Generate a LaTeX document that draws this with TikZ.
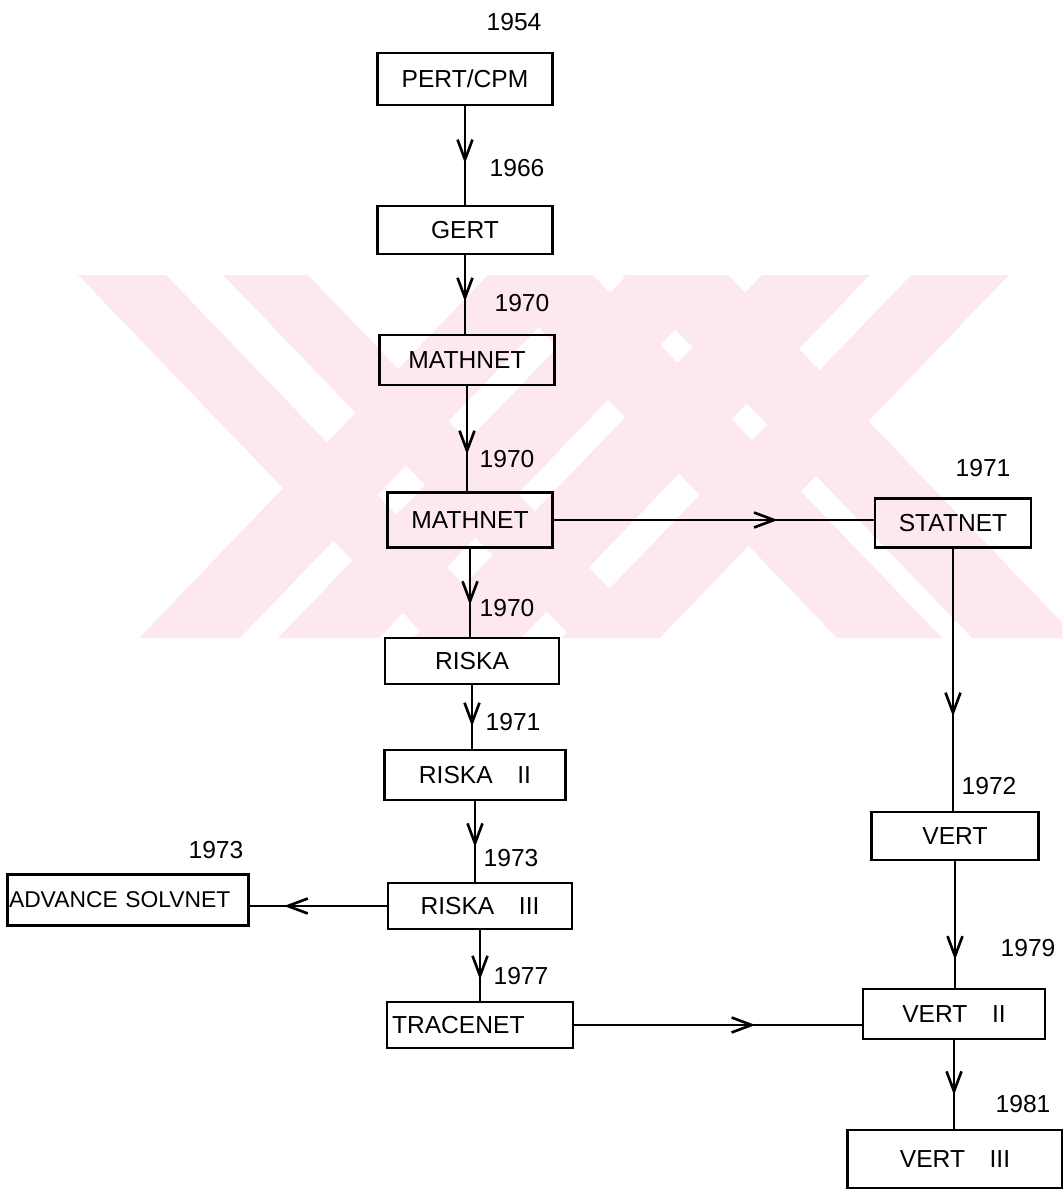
\documentclass[tikz,border=0pt]{standalone}
\usepackage{fontspec}
\setmainfont{Liberation Sans}
\usetikzlibrary{arrows.meta,decorations.markings}
\definecolor{stamp}{RGB}{253,233,237}
\tikzset{
  box/.style={draw, line width=1.5pt, inner sep=2pt, font=\fontsize{14}{16}\selectfont},
  year/.style={font=\fontsize{14}{16}\selectfont},
  link/.style={line width=1.5pt, postaction={decorate},
    decoration={markings, mark=at position #1 with {\arrow{Straight Barb[length=4mm,width=3mm]}}}},
}
\begin{document}
\begin{tikzpicture}[x=0.02cm,y=-0.02cm]
  \useasboundingbox (0,0) rectangle (1062,1196);
  % faded stamp behind the chart
  \begin{scope}
    \clip (75,275) rectangle (1062,638);
    \foreach \l/\r in {78/166,223/308,488/593,623/728}
      \fill[stamp] (\l,275) -- (\r,275) -- (\r+349,638) -- (\l+349,638) -- cycle;
    \foreach \l/\r in {139/240,278/379,413/521,562/660}
      \fill[stamp] (\l,638) -- (\r,638) -- (\r+349,275) -- (\l+349,275) -- cycle;
  \end{scope}
  % left column
  \node[box,minimum width=3.5cm,minimum height=1.04cm] (pert) at (465,79) {PERT/CPM};
  \node[box,minimum width=3.5cm,minimum height=0.96cm] (gert) at (465,230) {GERT};
  \node[box,minimum width=3.5cm,minimum height=1cm] (math1) at (467,360) {MATHNET};
  \node[box,minimum width=3.3cm,minimum height=1.1cm] (math2) at (470,520) {MATHNET};
  \node[box,minimum width=3.48cm,minimum height=0.92cm] (riska) at (472,661) {RISKA};
  \node[box,minimum width=3.62cm,minimum height=1cm] (riska2) at (475,775) {RISKA\quad II};
  \node[box,minimum width=3.68cm,minimum height=0.92cm] (riska3) at (480,906) {RISKA\quad III};
  \node[box,text width=3.52cm,align=left,inner xsep=0.1cm,minimum height=0.92cm] (trace) at (480,1025) {TRACENET};
  \node[box,font=\fontsize{13}{15}\selectfont,text width=4.76cm,align=left,inner xsep=0.03cm,minimum height=1.02cm] (advance) at (128,900) {ADVANCE SOLVNET};
  % right column
  \node[box,minimum width=3.12cm,minimum height=0.98cm] (statnet) at (953,523) {STATNET};
  \node[box,minimum width=3.34cm,minimum height=0.96cm] (vert) at (955,836) {VERT};
  \node[box,minimum width=3.64cm,minimum height=1cm] (vert2) at (954,1014) {VERT\quad II};
  \node[box,minimum width=4.3cm,minimum height=1.16cm] (vert3) at (955,1159) {VERT\quad III};
  % years
  \node[year] (y54) at (514,22) {1954};
  \node[year] (y66) at (517,168) {1966};
  \node[year] (y70a) at (522,303) {1970};
  \node[year] (y70b) at (507,459) {1970};
  \node[year] (y70c) at (507,608) {1970};
  \node[year] (y71a) at (513,722) {1971};
  \node[year] (y73a) at (511,858) {1973};
  \node[year] (y77) at (521,976) {1977};
  \node[year] (y73b) at (216,850) {1973};
  \node[year] (y71b) at (983,468) {1971};
  \node[year] (y72) at (989,786) {1972};
  \node[year] (y79) at (1028,948) {1979};
  \node[year] (y81) at (1023,1104) {1981};
  % links
  \foreach \a/\b/\p in {pert/gert/0.58,gert/math1/0.59,math1/math2/0.65,math2/riska/0.64,
      riska/riska2/0.65,riska2/riska3/0.57,riska3/trace/0.7,
      statnet/vert/0.64,vert/vert2/0.78,vert2/vert3/0.62}
    \draw[link=\p] (\a.south) -- (\a.south |- \b.north);
  \draw[link=0.7] (math2.east) -- (math2.east -| statnet.west);
  \draw[link=0.75] (riska3.west) -- (riska3.west -| advance.east);
  \draw[link=0.63] (trace.east) -- (trace.east -| vert2.west);
\end{tikzpicture}
\end{document}
